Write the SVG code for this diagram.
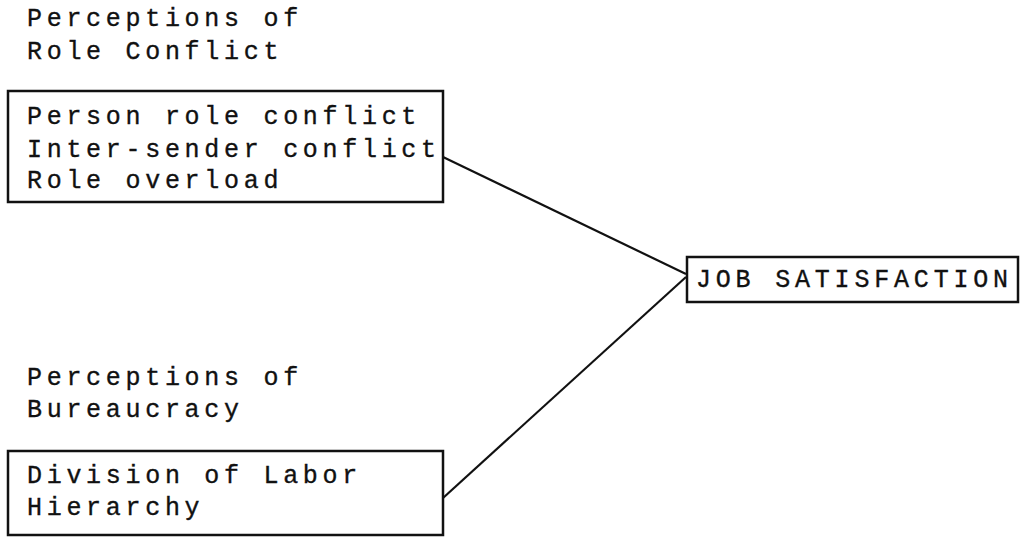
<svg xmlns="http://www.w3.org/2000/svg" width="1021" height="537" viewBox="0 0 1021 537">
<style>
.t{font-family:"Liberation Mono","Courier New",monospace;font-size:25px;letter-spacing:4.7px;fill:#111;stroke:#111;stroke-width:0.35}
.j{font-size:25px;letter-spacing:4.8px}
.box{fill:none;stroke:#111;stroke-width:2.5}
.con{fill:none;stroke:#111;stroke-width:2.2}
</style>
<rect width="1021" height="537" fill="#fff"/>
<g id="label-role">
<text class="t" x="27" y="26">Perceptions of</text>
<text class="t" x="27" y="59">Role Conflict</text>
</g>
<g id="node-role">
<rect class="box" x="8" y="91" width="435" height="111"/>
<text class="t" x="27" y="124">Person role conflict</text>
<text class="t" x="27" y="157">Inter-sender conflict</text>
<text class="t" x="27" y="188">Role overload</text>
</g>
<g id="label-bureau">
<text class="t" x="27" y="385">Perceptions of</text>
<text class="t" x="27" y="417">Bureaucracy</text>
</g>
<g id="node-bureau">
<rect class="box" x="8" y="451" width="435" height="84"/>
<text class="t" x="27" y="483">Division of Labor</text>
<text class="t" x="27" y="515">Hierarchy</text>
</g>
<g id="node-job">
<rect class="box" x="687" y="257" width="331" height="45"/>
<text class="t j" x="696" y="287">JOB SATISFACTION</text>
</g>
<g id="connectors">
<line class="con" x1="443" y1="157" x2="686" y2="274"/>
<line class="con" x1="443" y1="498" x2="686" y2="277"/>
</g>
</svg>
